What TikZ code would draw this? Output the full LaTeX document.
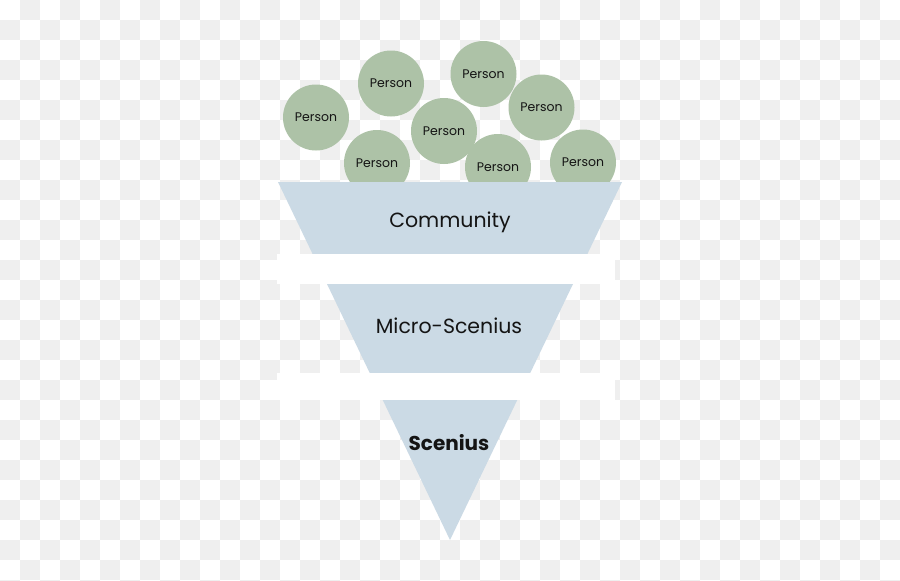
\documentclass[tikz,border=0pt]{standalone}
\usepackage{fontspec}
\setmainfont{Poppins}
\definecolor{checkgray}{HTML}{EFEFEF}
\definecolor{personfill}{HTML}{ADC2A7}
\definecolor{funnelfill}{HTML}{CBDAE5}
\definecolor{inktext}{HTML}{141414}
\tikzset{
  person/.style={circle, fill=personfill, minimum size=66pt, inner sep=0pt,
    text=inktext, font=\fontsize{12.5}{14}\selectfont},
  stagelabel/.style={anchor=base, inner sep=0pt, text=inktext,
    font=\fontsize{20.5}{24}\selectfont},
  whitebar/.style={fill=white, draw=none},
  funnelpart/.style={fill=funnelfill, draw=none}
}
\begin{document}
\begin{tikzpicture}[x=1pt,y=-1pt]
\useasboundingbox (0,0) rectangle (900,581);
% checkerboard background
\fill[white] (0,0) rectangle (900,581);
\foreach \j in {0,...,29}{
  \pgfmathtruncatemacro\s{mod(\j+1,2)}
  \pgfmathtruncatemacro\t{\s+2}
  \foreach \i in {\s,\t,...,44}{
    \fill[checkgray] (\i*20,\j*20) rectangle ++(20,20);
  }
}
% persons
\node[person] (p1) at (316,117.5) {Person};
\node[person] (p2) at (391,83.5) {Person};
\node[person] (p3) at (483.5,74) {Person};
\node[person] (p4) at (541.5,107.5) {Person};
\node[person] (p5) at (444,131) {Person};
\node[person] (p6) at (377,163) {Person};
\node[person] (p7) at (498,167) {Person};
\node[person] (p8) at (583,162.5) {Person};
% funnel
\coordinate (fl) at (278,182);
\coordinate (fr) at (622,182);
\coordinate (fa) at (450,540);
\fill[funnelpart] (fl) -- (fr) -- (fa) -- cycle;
\fill[whitebar] (277,254) rectangle (615,283.5);
\fill[whitebar] (277,372.5) rectangle (615,400);
% labels
\node[stagelabel] (community) at (450,227.5) {Community};
\node[stagelabel] (micro) at (449,333.5) {Micro-Scenius};
\node[stagelabel, font=\fontsize{20}{24}\selectfont\bfseries] (scenius) at (449,450) {Scenius};
\end{tikzpicture}
\end{document}
